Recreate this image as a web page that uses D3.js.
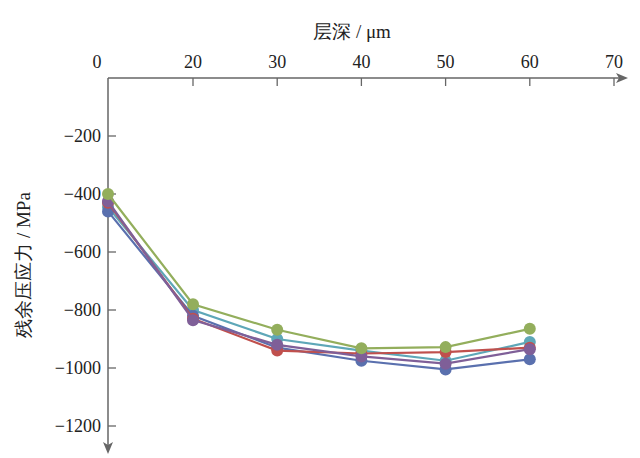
<!DOCTYPE html>
<html><head><meta charset="utf-8">
<script src="https://cdnjs.cloudflare.com/ajax/libs/d3/7.8.5/d3.min.js"></script>
<style>body{margin:0;background:#fff}text{font-family:"Liberation Serif","DejaVu Serif",serif}</style>
</head><body><svg id="c" width="640" height="458"></svg>
<script>
const depth = [0, 20, 30, 40, 50, 60];
const xTicks = [0, 20, 30, 40, 50, 60, 70];
const yTicks = [-200, -400, -600, -800, -1000, -1200];
const seriesNames = ["teal", "blue", "red", "purple", "green"];
const seriesColors = ["#5ea7b8", "#5a70ae", "#c0504d", "#7f5f98", "#93ae5c"];
const seriesValues = [
  [-445, -800, -900, -940, -975, -910],
  [-460, -820, -930, -975, -1005, -970],
  [-430, -830, -940, -950, -945, -930],
  [-425, -835, -920, -960, -985, -935],
  [-400, -780, -868, -932, -928, -865]
];

const svg = d3.select("#c");
const axisCol = "#666";
// first segment of axis is shortened (0 sits at the origin)
const x = d3.scaleLinear().domain([0, 20, 70]).range([108, 193, 614]);
const y = d3.scaleLinear().domain([0, -1200]).range([78, 426]);

// x axis on top
svg.append("line").attr("x1", 108).attr("x2", 622).attr("y1", 78).attr("y2", 78)
  .attr("stroke", axisCol).attr("stroke-width", 1.5);
svg.append("path").attr("d", "M628,78 L616,73 L619,78 L616,83 Z").attr("fill", axisCol);
xTicks.forEach(t => {
  if (t > 0) svg.append("line").attr("x1", x(t)).attr("x2", x(t)).attr("y1", 78).attr("y2", 86)
    .attr("stroke", axisCol).attr("stroke-width", 1.3);
  svg.append("text").attr("x", t === 0 ? 97 : x(t)).attr("y", 68).attr("text-anchor", "middle")
    .attr("font-size", 18).attr("fill", "#222").text(t);
});
svg.append("text").attr("x", 352).attr("y", 38).attr("text-anchor", "middle")
  .attr("font-size", 19).attr("fill", "#222").text("层深 / μm");

// y axis
svg.append("line").attr("x1", 108).attr("x2", 108).attr("y1", 78).attr("y2", 446)
  .attr("stroke", axisCol).attr("stroke-width", 1.5);
svg.append("path").attr("d", "M108,454 L103,442 L108,445 L113,442 Z").attr("fill", axisCol);
yTicks.forEach(t => {
  svg.append("line").attr("x1", 108).attr("x2", 116).attr("y1", y(t)).attr("y2", y(t))
    .attr("stroke", axisCol).attr("stroke-width", 1.3);
  svg.append("text").attr("x", 101).attr("y", y(t) + 6).attr("text-anchor", "end")
    .attr("font-size", 18).attr("fill", "#222").text("\u2212" + Math.abs(t));
});
svg.append("text").attr("transform", "translate(30,265) rotate(-90)").attr("text-anchor", "middle")
  .attr("font-size", 19).attr("fill", "#222").text("残余压应力 / MPa");

const line = d3.line().x((d, i) => x(depth[i])).y(d => y(d));
seriesValues.forEach((vals, s) => {
  const g = svg.append("g");
  g.append("path").attr("d", line(vals)).attr("fill", "none")
    .attr("stroke", seriesColors[s]).attr("stroke-width", 2.2);
  g.selectAll("circle").data(vals).join("circle")
    .attr("cx", (d, i) => x(depth[i])).attr("cy", d => y(d)).attr("r", 6)
    .attr("fill", seriesColors[s]);
});
</script></body></html>
